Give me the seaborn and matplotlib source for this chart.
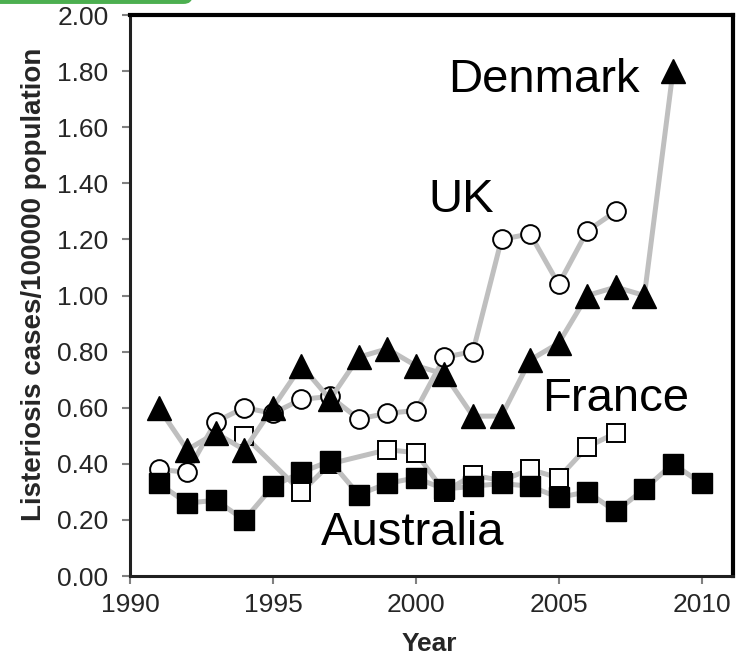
import matplotlib
matplotlib.use("Agg")
import matplotlib.pyplot as plt
import seaborn as sns
import pandas as pd
from matplotlib.patches import FancyBboxPatch
from matplotlib.ticker import FormatStrFormatter

sns.set_style("white")
plt.rcParams['font.family'] = ['Liberation Sans', 'DejaVu Sans']

# ---- data ----
uk_years = list(range(1991, 2008))
uk_vals = [0.38, 0.37, 0.55, 0.60, 0.58, 0.63, 0.64, 0.56, 0.58, 0.59,
           0.78, 0.80, 1.20, 1.22, 1.04, 1.23, 1.30]

france_years = [1994, 1996, 1997, 1999, 2000, 2001, 2002, 2003, 2004, 2005, 2006, 2007]
france_vals = [0.50, 0.30, 0.40, 0.45, 0.44, 0.30, 0.36, 0.34, 0.38, 0.35, 0.46, 0.51]

denmark_years = list(range(1991, 2010))
denmark_vals = [0.60, 0.45, 0.51, 0.45, 0.60, 0.75, 0.63, 0.78, 0.81, 0.75,
                0.72, 0.57, 0.57, 0.77, 0.83, 1.00, 1.03, 1.00, 1.80]

australia_years = list(range(1991, 2011))
australia_vals = [0.33, 0.26, 0.27, 0.20, 0.32, 0.37, 0.41, 0.29, 0.33, 0.35,
                  0.31, 0.32, 0.33, 0.32, 0.28, 0.30, 0.23, 0.31, 0.40, 0.33]

x_ticks = [1990, 1995, 2000, 2005, 2010]
y_ticks = [0.0, 0.2, 0.4, 0.6, 0.8, 1.0, 1.2, 1.4, 1.6, 1.8, 2.0]

series_names = ["Denmark", "UK", "France", "Australia"]
label_x = [2004.5, 2001.6, 2007.0, 1999.9]
label_y = [1.725, 1.298, 0.588, 0.11]

# ---- figure ----
fig = plt.figure(figsize=(7.4, 6.58), dpi=100)
ax = fig.add_axes([0.1757, 0.1246, 0.8148, 0.8526])

line_color = "#BFBFBF"
lw = 3.6

series = [
    (uk_years, uk_vals, dict(marker="o", markersize=13.5, markerfacecolor="white",
                             markeredgecolor="black", markeredgewidth=1.4)),
    (france_years, france_vals, dict(marker="s", markersize=13, markerfacecolor="white",
                                     markeredgecolor="black", markeredgewidth=1.4)),
    (denmark_years, denmark_vals, dict(marker="^", markersize=17, markerfacecolor="black",
                                       markeredgecolor="black", markeredgewidth=1.0)),
    (australia_years, australia_vals, dict(marker="s", markersize=14.5, markerfacecolor="black",
                                           markeredgecolor="black", markeredgewidth=1.0)),
]

for z, (yrs, vals, mk) in enumerate(series):
    df = pd.DataFrame({"Year": yrs, "Value": vals})
    sns.lineplot(data=df, x="Year", y="Value", ax=ax, color=line_color,
                 linewidth=lw, zorder=3 + z, **mk)

for name, lx, ly in zip(series_names, label_x, label_y):
    ax.text(lx, ly, name, fontsize=34, ha="center", va="baseline", color="black", zorder=10)

ax.set_xlim(1990, 2011.1)
ax.set_ylim(0, 2.0)
ax.set_xticks(x_ticks)
ax.set_yticks(y_ticks)
ax.yaxis.set_major_formatter(FormatStrFormatter("%.2f"))
ax.tick_params(axis="both", labelsize=19, length=5.5, width=1.5, color="#808080",
               direction="out", bottom=True, left=True)
ax.tick_params(axis="y", pad=10)
ax.tick_params(axis="x", pad=7)

ax.set_xlabel("Year", fontsize=19, fontweight="bold")
ax.set_ylabel("Listeriosis cases/100000 population", fontsize=20, fontweight="bold")
ax.xaxis.set_label_coords(0.497, -0.0998)
ax.yaxis.set_label_coords(-0.1376, 0.52)

for side in ["top", "right"]:
    ax.spines[side].set_color("black")
    ax.spines[side].set_linewidth(3)
for side in ["left", "bottom"]:
    ax.spines[side].set_color("#202020")
    ax.spines[side].set_linewidth(2.2)

# green header fragment at the top-left
fig.patches.append(FancyBboxPatch((-0.05, 0.994), 0.31, 0.03, boxstyle="round,pad=0,rounding_size=0.012",
                                  transform=fig.transFigure, facecolor="#4CAF50", edgecolor="none",
                                  figure=fig))

fig.savefig("out.png", dpi=100)
